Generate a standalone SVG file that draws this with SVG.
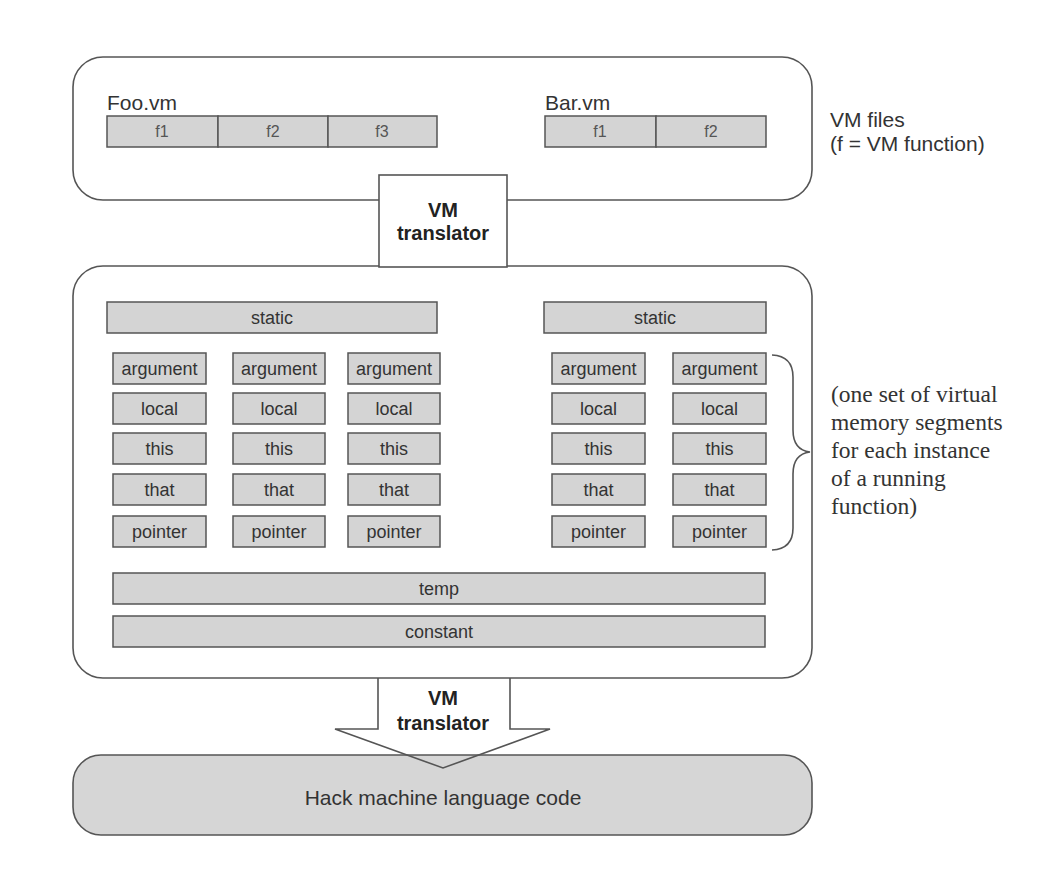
<svg xmlns="http://www.w3.org/2000/svg" width="1058" height="890" viewBox="0 0 1058 890">
<style>
.frame{fill:#fff;stroke:#555;stroke-width:1.6}
.seg{fill:#d4d4d4;stroke:#555;stroke-width:1.5}
.st{font-family:"Liberation Sans",Arial,sans-serif;font-size:18px;fill:#333;text-anchor:middle}
.ft{font-family:"Liberation Sans",Arial,sans-serif;font-size:16px;fill:#555;text-anchor:middle}
.lbl{font-family:"Liberation Sans",Arial,sans-serif;font-size:21px;fill:#333}
.bold{font-family:"Liberation Sans",Arial,sans-serif;font-size:20px;font-weight:bold;fill:#222;text-anchor:middle}
.serif{font-family:"Liberation Serif","Times New Roman",serif;font-size:23.5px;fill:#333}
.line{fill:none;stroke:#555;stroke-width:1.6}
</style>
<rect width="1058" height="890" fill="#fff"/>

<g id="vm-files">
<rect class="frame" x="73" y="57" width="739" height="143" rx="30" ry="30"/>
<text class="lbl" x="107" y="110">Foo.vm</text>
<rect class="seg" x="107" y="116" width="111" height="31"/>
<rect class="seg" x="218" y="116" width="110" height="31"/>
<rect class="seg" x="328" y="116" width="109" height="31"/>
<text class="ft" x="162" y="137">f1</text>
<text class="ft" x="273" y="137">f2</text>
<text class="ft" x="382" y="137">f3</text>
<text class="lbl" x="545" y="110">Bar.vm</text>
<rect class="seg" x="545" y="116" width="111" height="31"/>
<rect class="seg" x="656" y="116" width="110" height="31"/>
<text class="ft" x="600" y="137">f1</text>
<text class="ft" x="711" y="137">f2</text>
</g>

<g id="vm-files-label">
<text class="lbl" x="830" y="127">VM files</text>
<text class="lbl" x="830" y="151">(f = VM function)</text>
</g>

<g id="memory">
<rect class="frame" x="73" y="266" width="739" height="412" rx="30" ry="30"/>
<rect class="seg" x="107" y="302" width="330" height="31"/>
<text class="st" x="272" y="324">static</text>
<rect class="seg" x="544" y="302" width="222" height="31"/>
<text class="st" x="655" y="324">static</text>

<g id="frame-1">
<rect class="seg" x="113" y="353" width="93" height="31"/><text class="st" x="159.5" y="375">argument</text>
<rect class="seg" x="113" y="393" width="93" height="31"/><text class="st" x="159.5" y="415">local</text>
<rect class="seg" x="113" y="433" width="93" height="31"/><text class="st" x="159.5" y="455">this</text>
<rect class="seg" x="113" y="474" width="93" height="31"/><text class="st" x="159.5" y="496">that</text>
<rect class="seg" x="113" y="516" width="93" height="31"/><text class="st" x="159.5" y="538">pointer</text>
</g>
<g id="frame-2">
<rect class="seg" x="233" y="353" width="92" height="31"/><text class="st" x="279" y="375">argument</text>
<rect class="seg" x="233" y="393" width="92" height="31"/><text class="st" x="279" y="415">local</text>
<rect class="seg" x="233" y="433" width="92" height="31"/><text class="st" x="279" y="455">this</text>
<rect class="seg" x="233" y="474" width="92" height="31"/><text class="st" x="279" y="496">that</text>
<rect class="seg" x="233" y="516" width="92" height="31"/><text class="st" x="279" y="538">pointer</text>
</g>
<g id="frame-3">
<rect class="seg" x="348" y="353" width="92" height="31"/><text class="st" x="394" y="375">argument</text>
<rect class="seg" x="348" y="393" width="92" height="31"/><text class="st" x="394" y="415">local</text>
<rect class="seg" x="348" y="433" width="92" height="31"/><text class="st" x="394" y="455">this</text>
<rect class="seg" x="348" y="474" width="92" height="31"/><text class="st" x="394" y="496">that</text>
<rect class="seg" x="348" y="516" width="92" height="31"/><text class="st" x="394" y="538">pointer</text>
</g>
<g id="frame-4">
<rect class="seg" x="552" y="353" width="93" height="31"/><text class="st" x="598.5" y="375">argument</text>
<rect class="seg" x="552" y="393" width="93" height="31"/><text class="st" x="598.5" y="415">local</text>
<rect class="seg" x="552" y="433" width="93" height="31"/><text class="st" x="598.5" y="455">this</text>
<rect class="seg" x="552" y="474" width="93" height="31"/><text class="st" x="598.5" y="496">that</text>
<rect class="seg" x="552" y="516" width="93" height="31"/><text class="st" x="598.5" y="538">pointer</text>
</g>
<g id="frame-5">
<rect class="seg" x="673" y="353" width="93" height="31"/><text class="st" x="719.5" y="375">argument</text>
<rect class="seg" x="673" y="393" width="93" height="31"/><text class="st" x="719.5" y="415">local</text>
<rect class="seg" x="673" y="433" width="93" height="31"/><text class="st" x="719.5" y="455">this</text>
<rect class="seg" x="673" y="474" width="93" height="31"/><text class="st" x="719.5" y="496">that</text>
<rect class="seg" x="673" y="516" width="93" height="31"/><text class="st" x="719.5" y="538">pointer</text>
</g>

<rect class="seg" x="113" y="573" width="652" height="31"/>
<text class="st" x="439" y="595">temp</text>
<rect class="seg" x="113" y="616" width="652" height="31"/>
<text class="st" x="439" y="638">constant</text>
</g>

<g id="annotation">
<text class="serif" x="831" y="402">(one set of virtual</text>
<text class="serif" x="831" y="430">memory segments</text>
<text class="serif" x="831" y="458">for each instance</text>
<text class="serif" x="831" y="486">of a running</text>
<text class="serif" x="831" y="514">function)</text>
</g>

<g id="hack">
<rect x="73" y="755" width="739" height="80" rx="28" ry="28" fill="#d6d6d6" stroke="#555" stroke-width="1.6"/>
<text class="lbl" x="443" y="805" text-anchor="middle" font-size="22.5">Hack machine language code</text>
</g>

<g id="connectors">
<g id="translator-1">
<rect x="379" y="175" width="128" height="92" fill="#fff" stroke="#555" stroke-width="1.6"/>
<text class="bold" x="443" y="217">VM</text>
<text class="bold" x="443" y="240">translator</text>
</g>
<path class="line" d="M772,355 Q793,356 793,377 L793,430 Q793,450 810,452 Q793,454 793,474 L793,528 Q793,549 772,550"/>
<g id="translator-2">
<path class="line" d="M378,678 L378,729 L335,729 L443,768 L550,729 L510,729 L510,678"/>
<text class="bold" x="443" y="705">VM</text>
<text class="bold" x="443" y="730">translator</text>
</g>
</g>
</svg>
